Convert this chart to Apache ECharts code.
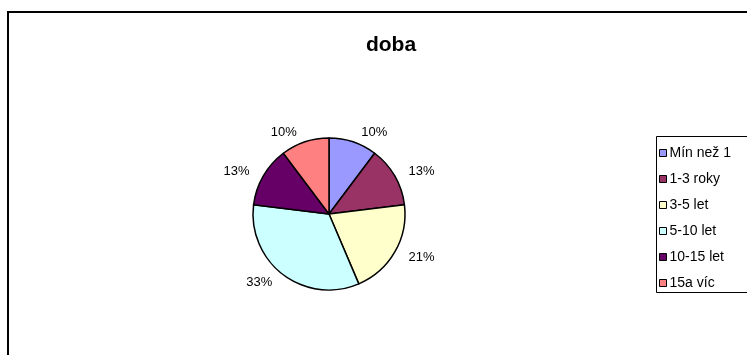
<!DOCTYPE html>
<html>
<head>
<meta charset="utf-8">
<script src="https://cdn.jsdelivr.net/npm/echarts@6/dist/echarts.min.js"></script>
<style>
html,body{margin:0;padding:0;background:#fff;}
#c{width:747px;height:355px;}
</style>
</head>
<body>
<div id="c"></div>
<script>
const categories = ['Mín než 1', '1-3 roky', '3-5 let', '5-10 let', '10-15 let', '15a víc'];
const values = [4, 5, 8, 13, 5, 4];
const colors = ['#9999FF', '#993366', '#FFFFCC', '#CCFFFF', '#660066', '#FF8080'];
const titleText = 'doba';

const chart = echarts.init(document.getElementById('c'), null, {renderer: 'canvas'});
const font = 'Arial, "Liberation Sans", sans-serif';
chart.setOption({
  animation: false,
  backgroundColor: '#fff',
  title: {
    text: titleText,
    left: 386, top: 30,
    textAlign: 'center',
    textStyle: {fontFamily: font, fontSize: 21, fontWeight: 'bold', color: '#000'}
  },
  legend: {
    orient: 'vertical',
    left: 659, top: 145,
    padding: 0,
    itemWidth: 7, itemHeight: 7, itemGap: 10,
    icon: 'rect',
    itemStyle: {borderColor: '#000', borderWidth: 1},
    textStyle: {fontFamily: font, fontSize: 14, color: '#000', lineHeight: 16, padding: [0, 0, 0, -2]},
    data: categories
  },
  graphic: [
    {type: 'rect', shape: {x: 8, y: 12, width: 800, height: 400}, style: {fill: 'none', stroke: '#000', lineWidth: 2}, z: -1},
    {type: 'rect', shape: {x: 656.5, y: 136.5, width: 100, height: 156}, style: {fill: 'none', stroke: '#000', lineWidth: 1}, z: -1}
  ],
  series: [{
    type: 'pie',
    center: [329, 214],
    radius: [0, 76],
    startAngle: 90,
    clockwise: true,
    color: colors,
    itemStyle: {borderColor: '#000', borderWidth: 1.5},
    label: {
      show: true,
      position: 'outside',
      formatter: p => Math.round(p.percent) + '%',
      fontFamily: font, fontSize: 13, color: '#000'
    },
    labelLine: {show: false, length: 10, length2: 0},
    emphasis: {disabled: true},
    data: categories.map((n, i) => ({name: n, value: values[i]}))
  }]
});
</script>
</body>
</html>
